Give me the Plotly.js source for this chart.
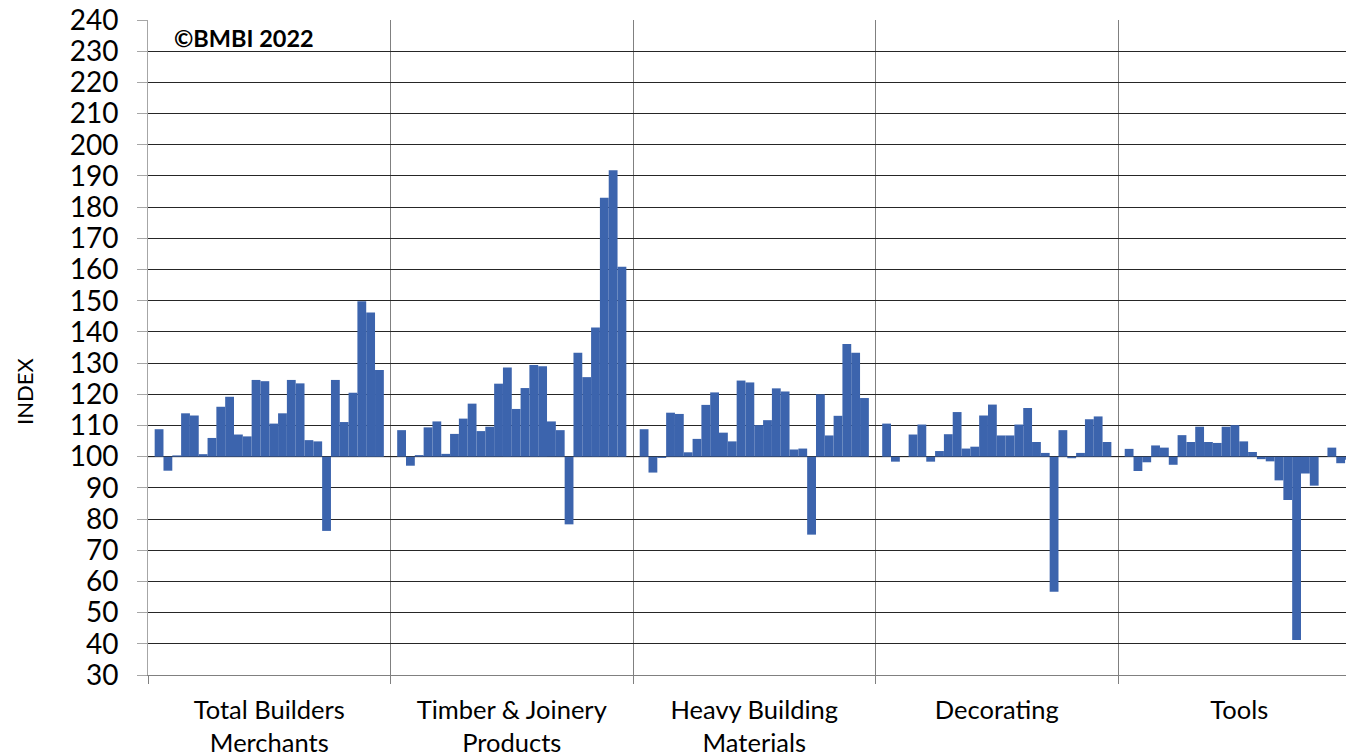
<!DOCTYPE html>
<html>
<head>
<meta charset="utf-8">
<script src="https://cdn.plot.ly/plotly-3.0.1.min.js"></script>
<style>
html,body{margin:0;padding:0;background:#fff;overflow:hidden;}
#chart{width:1346px;height:756px;}
</style>
</head>
<body>
<div id="chart"></div>
<script>
// Categories (x-axis groups)
const categories = [
  'Total Builders<br>Merchants',
  'Timber & Joinery<br>Products',
  'Heavy Building<br>Materials',
  'Decorating',
  'Tools'
];

// Index values (26 periods per category)
const totalBuildersMerchants = [108.8, 95.5, 100.4, 113.9, 113.2, 100.8, 106.0, 116.0, 119.2, 107.1, 106.5, 124.6, 124.2, 110.6, 113.9, 124.6, 123.5, 105.3, 104.9, 76.2, 124.6, 111.1, 120.5, 149.8, 146.2, 127.8];
const timberJoinery = [108.5, 97.1, 100.5, 109.4, 111.3, 100.9, 107.3, 112.2, 117.0, 108.2, 109.6, 123.4, 128.6, 115.3, 122.0, 129.4, 129.0, 111.3, 108.5, 78.3, 133.3, 125.5, 141.4, 183.0, 191.8, 160.9];
const heavyBuilding = [108.8, 94.9, 99.6, 114.1, 113.7, 101.4, 105.7, 116.6, 120.6, 107.7, 104.9, 124.4, 123.8, 110.1, 111.7, 121.9, 120.9, 102.3, 102.6, 75.0, 120.0, 106.8, 113.1, 136.1, 133.3, 118.8];
const decorating = [110.6, 98.4, 100.0, 107.1, 110.3, 98.4, 101.8, 107.2, 114.3, 102.6, 103.2, 113.2, 116.7, 106.8, 106.8, 110.3, 115.6, 104.7, 101.2, 56.7, 108.5, 99.5, 101.2, 112.0, 112.9, 104.7];
const tools = [102.5, 95.4, 98.2, 103.6, 102.9, 97.4, 106.9, 104.7, 109.6, 104.7, 104.4, 109.6, 110.1, 104.9, 101.5, 99.2, 98.5, 92.4, 86.1, 41.2, 94.6, 90.7, 100.0, 102.9, 97.9, 99.0];

const yTickVals = [30,40,50,60,70,80,90,100,110,120,130,140,150,160,170,180,190,200,210,220,230,240];
const baseline = 100;

const groups = [totalBuildersMerchants, timberJoinery, heavyBuilding, decorating, tools];
const nPeriods = totalBuildersMerchants.length;
const traces = [];
for (let i = 0; i < nPeriods; i++) {
  traces.push({
    type: 'bar',
    x: categories,
    y: groups.map(g => g[i] - baseline),
    base: baseline,
    marker: {color: '#3c64ad', line: {width: 0}},
    showlegend: false,
    hoverinfo: 'skip'
  });
}

const FONT = 'Lato, "Open Sans", "Liberation Sans", sans-serif';

const layout = {
  width: 1346,
  height: 756,
  margin: {l: 148, r: 0, t: 20, b: 81},
  paper_bgcolor: '#ffffff',
  plot_bgcolor: '#ffffff',
  barmode: 'group',
  bargap: 0.055,
  bargroupgap: 0,
  showlegend: false,
  font: {family: FONT, color: '#000'},
  xaxis: {
    type: 'category',
    range: [-0.5, 4.44],
    tickson: 'boundaries',
    showgrid: true,
    gridcolor: '#808080',
    gridwidth: 1,
    ticks: 'outside',
    ticklen: 8,
    tickcolor: '#808080',
    showline: true,
    linecolor: '#808080',
    linewidth: 1,
    tickfont: {family: FONT, size: 25.5, color: '#000'},
    ticklabelstandoff: 12,
    fixedrange: true
  },
  yaxis: {
    range: [30, 240],
    tickvals: yTickVals,
    showgrid: true,
    gridcolor: '#262626',
    gridwidth: 1,
    zeroline: false,
    ticks: 'outside',
    ticklen: 10,
    tickcolor: '#a6a6a6',
    showline: true,
    linecolor: '#a6a6a6',
    linewidth: 1,
    tickfont: {family: FONT, size: 28, color: '#000'},
    ticklabelstandoff: 13,
    fixedrange: true
  },
  shapes: [{
    type: 'line', xref: 'paper', yref: 'y',
    x0: 0, x1: 1, y0: baseline, y1: baseline,
    line: {color: '#bfbfbf', width: 1.5},
    layer: 'below'
  }],
  annotations: [
    {
      text: '<b>©BMBI 2022</b>',
      xref: 'paper', yref: 'paper',
      x: 0.02, y: 0.9725, xanchor: 'left', yanchor: 'middle',
      showarrow: false,
      font: {family: FONT, size: 23.5, color: '#000'}
    },
    {
      text: 'INDEX',
      xref: 'paper', yref: 'paper',
      x: -0.1027, y: 0.4336, xanchor: 'center', yanchor: 'middle',
      textangle: -90,
      showarrow: false,
      font: {family: FONT, size: 22, color: '#000'}
    }
  ]
};

Plotly.newPlot('chart', traces, layout, {displayModeBar: false, staticPlot: true});
</script>
</body>
</html>
